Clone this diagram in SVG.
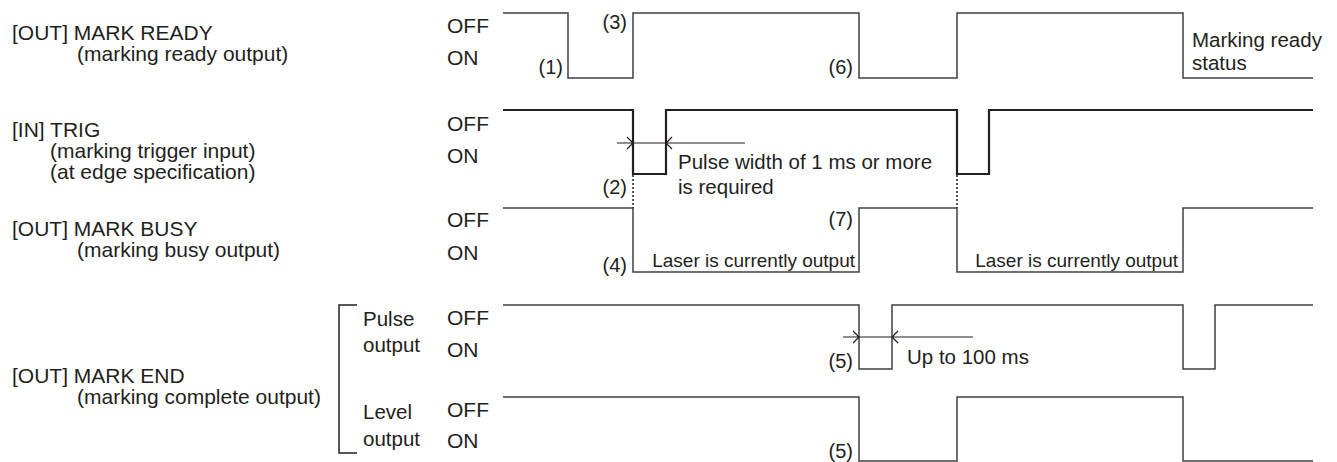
<svg xmlns="http://www.w3.org/2000/svg" width="1337" height="462" viewBox="0 0 1337 462">
<style>
text{font-family:"Liberation Sans",Arial,sans-serif;fill:#231f20;font-size:20.5px}
.lbl{font-size:21px}
.st{font-size:21px}
.num{font-size:20px;text-anchor:end}
.las{font-size:19px;text-anchor:end}
.sig{fill:none;stroke:#404040;stroke-width:1.5}
.sigb{fill:none;stroke:#231f20;stroke-width:2.2}
.dim{fill:none;stroke:#231f20;stroke-width:1.2}
.dot{fill:none;stroke:#231f20;stroke-width:1.5;stroke-dasharray:2 2}
.br{fill:none;stroke:#231f20;stroke-width:1.5}
</style>
<rect width="1337" height="462" fill="#fff"/>
<g id="mark-ready">
<text class="lbl" x="12" y="40">[OUT] MARK READY</text>
<text class="lbl" x="77" y="61">(marking ready output)</text>
<text class="st" x="447" y="33">OFF</text>
<text class="st" x="447" y="65">ON</text>
<path class="sig" d="M503 13H568V78H633V13H859V78H957V13H1183V78H1313"/>
<text class="num" x="563" y="74">(1)</text>
<text class="num" x="627" y="29">(3)</text>
<text class="num" x="853" y="74">(6)</text>
<text x="1192" y="47">Marking ready</text>
<text x="1192" y="70">status</text>
</g>
<g id="trig">
<text class="lbl" x="12" y="137">[IN] TRIG</text>
<text class="lbl" x="50" y="158">(marking trigger input)</text>
<text class="lbl" x="50" y="179">(at edge specification)</text>
<text class="st" x="447" y="131">OFF</text>
<text class="st" x="447" y="163">ON</text>
<path class="sigb" d="M503 110H633V174H666V110H957V174H989V110H1313"/>
<text class="num" x="627" y="194">(2)</text>
<text x="678" y="169">Pulse width of 1 ms or more</text>
<text x="678" y="194">is required</text>
</g>
<g id="mark-busy">
<text class="lbl" x="12" y="236">[OUT] MARK BUSY</text>
<text class="lbl" x="77" y="257">(marking busy output)</text>
<text class="st" x="447" y="227">OFF</text>
<text class="st" x="447" y="260">ON</text>
<path class="sig" d="M503 208H633V272H859V208H957V272H1183V208H1313"/>
<text class="num" x="627" y="272">(4)</text>
<text class="num" x="853" y="226">(7)</text>
<text class="las" x="855" y="267">Laser is currently output</text>
<text class="las" x="1178" y="267">Laser is currently output</text>
</g>
<g id="mark-end">
<text class="lbl" x="12" y="383">[OUT] MARK END</text>
<text class="lbl" x="77" y="404">(marking complete output)</text>
<path class="br" d="M357 305H339V453H357"/>
<text x="363" y="326">Pulse</text>
<text x="363" y="352">output</text>
<text x="363" y="419">Level</text>
<text x="363" y="446">output</text>
</g>
<g id="pulse-output">
<text class="st" x="447" y="325">OFF</text>
<text class="st" x="447" y="357">ON</text>
<path class="sig" d="M503 305H859V369H892V305H1183V369H1215V305H1313"/>
<text class="num" x="853" y="368">(5)</text>
<text x="907" y="364">Up to 100 ms</text>
</g>
<g id="level-output">
<text class="st" x="447" y="417">OFF</text>
<text class="st" x="447" y="448">ON</text>
<path class="sig" d="M503 397H859V461H957V397H1183V461H1313"/>
<text class="num" x="853" y="458">(5)</text>
</g>
<g id="connectors">
<path class="dim" d="M617 143H745M627 137L633 143L627 149M672 137L666 143L672 149"/>
<path class="dim" d="M843 337H973M853 331L859 337L853 343M898 331L892 337L898 343"/>
<path class="dot" d="M633 175V208M957 175V208"/>
</g>
</svg>
